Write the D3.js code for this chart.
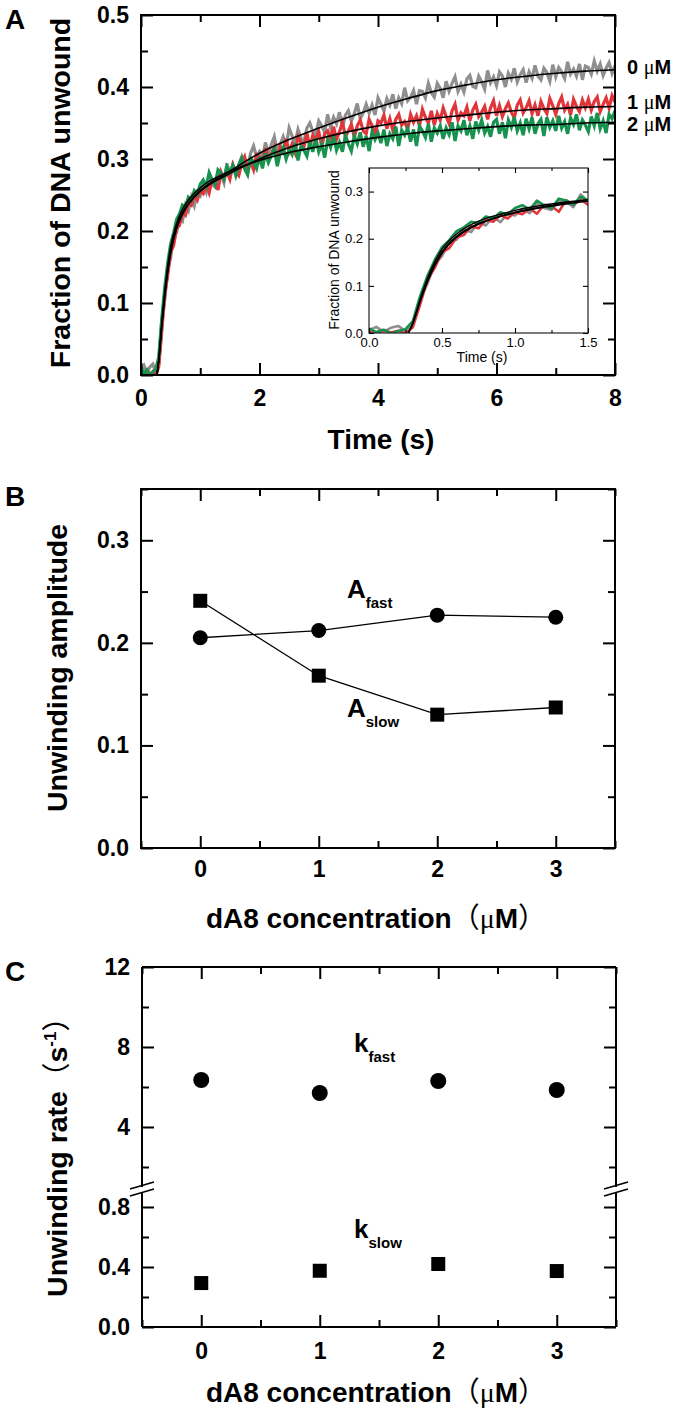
<!DOCTYPE html>
<html><head><meta charset="utf-8">
<script src="https://cdn.jsdelivr.net/npm/d3@7"></script>
<style>
body{margin:0;background:#fff}
svg{display:block}
text{font-family:"Liberation Sans",Arial,sans-serif}
</style>
</head><body>
<svg id="chart" width="680" height="1414"></svg>
<script>
// ---------------- DATA ----------------
// Panel A: stopped-flow traces sampled every 0.05 s from 0 to 8 s
const sampleStep = 0.05;
const trace0uM = [
0.006,0.013,0.003,0.011,0.015,0.004,0.016,0.072,0.104,0.146,0.163,0.193,0.198,0.219,0.214,0.236,0.228,0.247,0.235,0.254,0.249,
0.264,0.254,0.276,0.265,0.261,0.280,0.278,0.267,0.294,0.279,
0.292,0.280,0.292,0.303,0.290,0.286,0.308,0.318,0.303,0.310,
0.301,0.323,0.309,0.320,0.331,0.309,0.320,0.331,0.318,0.343,
0.332,0.322,0.341,0.329,0.324,0.343,0.350,0.338,0.334,0.353,
0.346,0.337,0.362,0.344,0.358,0.349,0.365,0.343,0.361,0.367,
0.353,0.363,0.377,0.356,0.364,0.376,0.364,0.375,0.361,0.385,
0.376,0.367,0.384,0.375,0.390,0.370,0.385,0.377,0.399,0.381,
0.386,0.395,0.376,0.395,0.394,0.385,0.405,0.392,0.386,0.405,
0.398,0.385,0.408,0.394,0.405,0.414,0.394,0.404,0.393,0.411,
0.416,0.401,0.399,0.415,0.407,0.397,0.423,0.406,0.414,0.402,
0.421,0.415,0.400,0.419,0.411,0.426,0.407,0.417,0.424,0.406,
0.421,0.412,0.430,0.415,0.410,0.426,0.420,0.408,0.431,0.414,
0.427,0.421,0.412,0.435,0.418,0.425,0.415,0.432,0.410,0.429,
0.427,0.418,0.436,0.422,0.432,0.416,0.426,0.434,0.419,0.430];
const trace1uM = [
0.004,-0.002,0.006,0.001,0.005,-0.001,0.012,0.060,0.112,0.138,0.171,0.180,0.203,0.208,0.226,0.222,0.240,0.236,0.250,0.243,0.256,
0.252,0.264,0.253,0.272,0.269,0.257,0.282,0.272,0.283,0.272,
0.292,0.282,0.277,0.294,0.303,0.287,0.296,0.285,0.306,0.303,
0.295,0.315,0.301,0.307,0.317,0.298,0.317,0.310,0.328,0.310,
0.321,0.309,0.331,0.323,0.317,0.336,0.316,0.333,0.326,0.338,
0.318,0.335,0.339,0.328,0.345,0.327,0.338,0.351,0.331,0.339,
0.348,0.330,0.346,0.354,0.339,0.335,0.355,0.346,0.333,0.353,
0.350,0.361,0.342,0.356,0.340,0.355,0.362,0.347,0.352,0.341,
0.362,0.351,0.360,0.346,0.369,0.358,0.350,0.367,0.347,0.363,
0.354,0.371,0.359,0.349,0.367,0.376,0.354,0.364,0.360,0.372,
0.353,0.368,0.376,0.359,0.365,0.373,0.355,0.371,0.381,0.360,
0.374,0.359,0.370,0.378,0.365,0.357,0.375,0.382,0.364,0.371,
0.381,0.363,0.375,0.360,0.380,0.370,0.363,0.384,0.374,0.362,
0.377,0.386,0.368,0.376,0.361,0.383,0.373,0.366,0.382,0.371,
0.383,0.368,0.380,0.386,0.366,0.376,0.385,0.371,0.388,0.379];
const trace2uM = [
0.010,0.002,0.007,-0.001,0.004,0.008,0.025,0.078,0.121,0.155,0.182,0.197,0.216,0.224,0.236,0.233,0.247,0.243,0.256,0.251,0.265,
0.271,0.262,0.281,0.271,0.264,0.285,0.281,0.272,0.289,0.281,
0.291,0.277,0.292,0.301,0.286,0.278,0.301,0.296,0.287,0.303,
0.287,0.308,0.295,0.305,0.314,0.290,0.308,0.316,0.300,0.313,
0.306,0.322,0.298,0.318,0.312,0.304,0.324,0.310,0.329,0.310,
0.321,0.302,0.327,0.316,0.332,0.312,0.323,0.310,0.333,0.321,
0.311,0.332,0.321,0.337,0.317,0.332,0.311,0.338,0.327,0.336,
0.322,0.341,0.318,0.335,0.328,0.345,0.318,0.340,0.333,0.343,
0.324,0.341,0.318,0.346,0.339,0.330,0.349,0.324,0.343,0.336,
0.346,0.328,0.343,0.334,0.351,0.325,0.346,0.339,0.354,0.333,
0.346,0.328,0.352,0.340,0.354,0.336,0.345,0.331,0.351,0.355,
0.335,0.351,0.329,0.354,0.344,0.358,0.339,0.350,0.333,0.356,
0.342,0.358,0.335,0.349,0.355,0.332,0.358,0.344,0.353,0.339,
0.360,0.343,0.352,0.335,0.357,0.348,0.362,0.340,0.354,0.347,
0.338,0.359,0.346,0.364,0.342,0.353,0.336,0.362,0.356,0.367];

// fitted curves (read at these times)
const fitTimes = [0.27,0.3,0.35,0.4,0.45,0.5,0.6,0.7,0.8,0.9,1.0,1.5,2,2.5,3,3.5,4,4.5,5,5.5,6,6.5,7,7.5,8];
const fit0uM = [0,0.02,0.068,0.11,0.145,0.172,0.205,0.225,0.238,0.248,0.256,0.283,0.308,0.327,0.343,0.358,0.372,0.384,0.395,0.403,0.410,0.415,0.419,0.422,0.424];
const fit1uM = [0,0.02,0.066,0.108,0.142,0.169,0.203,0.223,0.237,0.247,0.255,0.280,0.300,0.316,0.328,0.338,0.346,0.352,0.357,0.361,0.365,0.368,0.370,0.372,0.373];
const fit2uM = [0,0.022,0.072,0.116,0.151,0.178,0.210,0.230,0.243,0.252,0.260,0.283,0.298,0.309,0.317,0.324,0.330,0.335,0.339,0.342,0.345,0.347,0.348,0.350,0.351];
const traceLabels = ["0 ", "1 ", "2 "];
const traceColors = ["#8f8f8f", "#e0363a", "#17924f"];

// Panels B and C
const concentrations = [0, 1, 2, 3];
const aFast = [0.205, 0.212, 0.227, 0.225];
const aSlow = [0.241, 0.168, 0.130, 0.137];
const kFast = [6.35, 5.7, 6.3, 5.85];
const kSlow = [0.293, 0.375, 0.42, 0.373];

// tick values
const aXTicks = [0, 2, 4, 6, 8], aXMinor = [1, 3, 5, 7];
const aYTicks = [0, 0.1, 0.2, 0.3, 0.4, 0.5], aYMinor = [0.05, 0.15, 0.25, 0.35, 0.45];
const insetXTicks = [0, 0.5, 1.0, 1.5], insetXMinor = [0.25, 0.75, 1.25];
const insetYTicks = [0, 0.1, 0.2, 0.3];
const concTicks = [0, 1, 2, 3], concMinor = [-0.5, 0.5, 1.5, 2.5, 3.5];
const bYTicks = [0, 0.1, 0.2, 0.3], bYMinor = [0.05, 0.15, 0.25, 0.35];
const cUpperTicks = [4, 8, 12], cUpperMinor = [2, 6, 10];
const cLowerTicks = [0, 0.4, 0.8], cLowerMinor = [0.2, 0.6];

// ---------------- DRAWING ----------------
const svg = d3.select("#chart");
const defs = svg.append("defs");

function styleAxis(g, fontSize, weight) {
  g.attr("font-size", null).attr("font-family", null);
  g.select(".domain").remove();
  g.selectAll("line").attr("stroke", "#000");
  g.selectAll("text").attr("font-size", fontSize).attr("font-weight", weight)
    .attr("fill", "#000");
}
function axisSet(g, x, y, o) {
  const [x0, x1] = x.range(), [y0, y1] = y.range();
  const sw = o.sw;
  const add = (gen, tx, ty) => {
    const a = g.append("g").attr("transform", `translate(${tx},${ty})`).call(gen);
    styleAxis(a, o.font, o.weight);
    a.selectAll("line").attr("stroke-width", sw);
    return a;
  };
  if (o.bottom !== false) {
    add(d3.axisBottom(x).tickValues(o.xMajor).tickSize(-o.major).tickSizeOuter(0).tickPadding(o.xPad).tickFormat(o.xFmt), 0, y0);
    if (o.xMinor) add(d3.axisBottom(x).tickValues(o.xMinor).tickSize(-o.minor).tickSizeOuter(0).tickFormat(""), 0, y0);
  }
  if (o.top !== false) {
    add(d3.axisTop(x).tickValues(o.xMajor).tickSize(-o.major).tickSizeOuter(0).tickFormat(""), 0, y1);
    if (o.xMinor) add(d3.axisTop(x).tickValues(o.xMinor).tickSize(-o.minor).tickSizeOuter(0).tickFormat(""), 0, y1);
  }
  add(d3.axisLeft(y).tickValues(o.yMajor).tickSize(-o.major).tickSizeOuter(0).tickPadding(o.yPad).tickFormat(o.yFmt), x0, 0);
  if (o.yMinor) add(d3.axisLeft(y).tickValues(o.yMinor).tickSize(-o.minor).tickSizeOuter(0).tickFormat(""), x0, 0);
  add(d3.axisRight(y).tickValues(o.yMajor).tickSize(-o.major).tickSizeOuter(0).tickFormat(""), x1, 0);
  if (o.yMinor) add(d3.axisRight(y).tickValues(o.yMinor).tickSize(-o.minor).tickSizeOuter(0).tickFormat(""), x1, 0);
}
function panelLetter(t, x, y) {
  svg.append("text").attr("x", x).attr("y", y).attr("font-size", 28).attr("font-weight", "bold").text(t);
}
function muText(sel, parts) {
  parts.forEach(([t, kind]) => {
    const ts = sel.append("tspan").text(t);
    if (kind === "mu") ts.attr("font-family", "'Liberation Serif',serif").attr("font-weight", "normal");
    if (kind === "cjk") ts.attr("font-family", "'Noto Sans CJK SC',sans-serif").attr("font-weight", "normal");
  });
}

// ===== Panel A =====
const xA = d3.scaleLinear().domain([0, 8]).range([141, 615]);
const yA = d3.scaleLinear().domain([0, 0.5]).range([375, 15]);
defs.append("clipPath").attr("id", "clipA").append("rect")
  .attr("x", 141).attr("y", 15).attr("width", 474).attr("height", 360);
const traces = [trace0uM, trace1uM, trace2uM];
const fits = [fit0uM, fit1uM, fit2uM];
const gA = svg.append("g").attr("clip-path", "url(#clipA)");
const lineA = d3.line().x((d, i) => xA(i * sampleStep)).y(d => yA(d));
traces.forEach((tr, k) => {
  gA.append("path").attr("d", lineA(tr)).attr("fill", "none")
    .attr("stroke", traceColors[k]).attr("stroke-width", 3.2).attr("stroke-linejoin", "miter");
});
const fitLineA = d3.line().x((d, i) => xA(fitTimes[i])).y(d => yA(d)).curve(d3.curveMonotoneX);
fits.forEach(f => {
  gA.append("path").attr("d", fitLineA(f)).attr("fill", "none").attr("stroke", "#000").attr("stroke-width", 1.6);
});
svg.append("rect").attr("x", 141).attr("y", 15).attr("width", 474).attr("height", 360)
  .attr("fill", "none").attr("stroke", "#000").attr("stroke-width", 2);
axisSet(svg.append("g"), xA, yA, {
  xMajor: aXTicks, xMinor: aXMinor, yMajor: aYTicks, yMinor: aYMinor,
  major: 12, minor: 7, sw: 2, font: 23, weight: "bold", xPad: 15, yPad: 12,
  xFmt: d3.format("d"), yFmt: d3.format(".1f")
});
// right labels
const labelDy = [4, 3, 9];
traceLabels.forEach((t, k) => {
  const txt = svg.append("text").attr("x", 627).attr("y", yA(fits[k][fits[k].length - 1]) + labelDy[k])
    .attr("font-size", 20).attr("font-weight", "bold");
  muText(txt, [[t, ""], ["μ", "mu"], ["M", ""]]);
});
svg.append("text").attr("transform", "translate(70,193) rotate(-90)").attr("text-anchor", "middle")
  .attr("font-size", 28.5).attr("font-weight", "bold").text("Fraction of DNA unwound");
svg.append("text").attr("x", 381).attr("y", 449).attr("text-anchor", "middle")
  .attr("font-size", 28).attr("font-weight", "bold").text("Time (s)");
panelLetter("A", 5, 29);

// ----- Inset -----
const xI = d3.scaleLinear().domain([0, 1.5]).range([369, 588]);
const yI = d3.scaleLinear().domain([0, 0.35]).range([333, 168]);
svg.append("rect").attr("x", 369).attr("y", 168).attr("width", 219).attr("height", 165).attr("fill", "#fff");
defs.append("clipPath").attr("id", "clipI").append("rect")
  .attr("x", 369).attr("y", 168).attr("width", 219).attr("height", 165);
const gI = svg.append("g").attr("clip-path", "url(#clipI)");
const lineI = d3.line().x((d, i) => xI(i * sampleStep)).y(d => yI(d));
traces.forEach((tr, k) => {
  gI.append("path").attr("d", lineI(tr.slice(0, 32))).attr("fill", "none")
    .attr("stroke", traceColors[k]).attr("stroke-width", 2.6).attr("stroke-linejoin", "round");
});
const fitLineI = d3.line().x((d, i) => xI(fitTimes[i])).y(d => yI(d)).curve(d3.curveMonotoneX);
fits.forEach(f => {
  gI.append("path").attr("d", fitLineI(f)).attr("fill", "none").attr("stroke", "#000").attr("stroke-width", 1.4);
});
svg.append("rect").attr("x", 369).attr("y", 168).attr("width", 219).attr("height", 165)
  .attr("fill", "none").attr("stroke", "#222").attr("stroke-width", 1.2);
axisSet(svg.append("g"), xI, yI, {
  xMajor: insetXTicks, xMinor: insetXMinor, yMajor: insetYTicks,
  major: 5, minor: 3, sw: 1.1, font: 13, weight: "normal", xPad: 5, yPad: 6,
  xFmt: d3.format(".1f"), yFmt: d3.format(".1f")
});
svg.append("text").attr("transform", "translate(339,250) rotate(-90)").attr("text-anchor", "middle")
  .attr("font-size", 14).text("Fraction of DNA unwound");
svg.append("text").attr("x", 482).attr("y", 362).attr("text-anchor", "middle")
  .attr("font-size", 14).text("Time (s)");

// ===== Panel B =====
const xB = d3.scaleLinear().domain([-0.5, 3.5]).range([141, 615]);
const yB = d3.scaleLinear().domain([0, 0.35]).range([848, 489]);
svg.append("rect").attr("x", 141).attr("y", 489).attr("width", 474).attr("height", 359)
  .attr("fill", "none").attr("stroke", "#000").attr("stroke-width", 2);
axisSet(svg.append("g"), xB, yB, {
  xMajor: concTicks, xMinor: concMinor, yMajor: bYTicks, yMinor: bYMinor,
  major: 12, minor: 7, sw: 2, font: 23, weight: "bold", xPad: 13, yPad: 12,
  xFmt: d3.format("d"), yFmt: d3.format(".1f")
});
const lineB = d3.line().x((d, i) => xB(concentrations[i])).y(d => yB(d));
[aFast, aSlow].forEach(s => {
  svg.append("path").attr("d", lineB(s)).attr("fill", "none").attr("stroke", "#000").attr("stroke-width", 1.3);
});
svg.append("g").selectAll("circle").data(aFast).join("circle")
  .attr("cx", (d, i) => xB(concentrations[i])).attr("cy", d => yB(d)).attr("r", 7.5).attr("fill", "#000");
svg.append("g").selectAll("rect").data(aSlow).join("rect")
  .attr("x", (d, i) => xB(concentrations[i]) - 7).attr("y", d => yB(d) - 7)
  .attr("width", 14).attr("height", 14).attr("fill", "#000");
function subLabel(main, sub, x, y, size) {
  const t = svg.append("text").attr("x", x).attr("y", y).attr("font-weight", "bold").attr("font-size", size);
  t.append("tspan").text(main);
  t.append("tspan").attr("font-size", 15).attr("dy", 10).text(sub);
}
subLabel("A", "fast", 347, 598, 26);
subLabel("A", "slow", 347, 717, 26);
svg.append("text").attr("transform", "translate(67,668) rotate(-90)").attr("text-anchor", "middle")
  .attr("font-size", 28.5).attr("font-weight", "bold").text("Unwinding amplitude");
{
  const t = svg.append("text").attr("x", 376).attr("y", 928).attr("text-anchor", "middle")
    .attr("font-size", 28).attr("font-weight", "bold");
  muText(t, [["dA8 concentration", ""], ["（", "cjk"], ["μ", "mu"], ["M", ""], ["）", "cjk"]]);
}
panelLetter("B", 5, 506);

// ===== Panel C =====
const xC = d3.scaleLinear().domain([-0.5, 3.5]).range([142, 616]);
const yCu = d3.scaleLinear().domain([1, 12]).range([1187, 967]);
const yCl = d3.scaleLinear().domain([0, 0.9]).range([1327, 1192]);
const gC = svg.append("g");
const frame = [
  [142, 967, 616, 967], [142, 1327, 616, 1327],
  [142, 967, 142, 1187], [142, 1193, 142, 1327],
  [616, 967, 616, 1187], [616, 1193, 616, 1327]
];
gC.selectAll("line.f").data(frame).join("line").attr("class", "f")
  .attr("x1", d => d[0]).attr("y1", d => d[1]).attr("x2", d => d[2]).attr("y2", d => d[3])
  .attr("stroke", "#000").attr("stroke-width", 2);
axisSet(gC.append("g"), xC, yCu, {
  bottom: false, xMajor: concTicks, xMinor: concMinor, yMajor: cUpperTicks, yMinor: cUpperMinor,
  major: 12, minor: 7, sw: 2, font: 23, weight: "bold", xPad: 14, yPad: 12,
  xFmt: d3.format("d"), yFmt: d3.format("d")
});
axisSet(gC.append("g"), xC, yCl, {
  top: false, xMajor: concTicks, xMinor: concMinor, yMajor: cLowerTicks, yMinor: cLowerMinor,
  major: 12, minor: 7, sw: 2, font: 23, weight: "bold", xPad: 16, yPad: 12,
  xFmt: d3.format("d"), yFmt: d3.format(".1f")
});
[142, 616].forEach(bx => {
  [1186, 1193].forEach(by => {
    gC.append("line").attr("x1", bx - 12).attr("y1", by + 3).attr("x2", bx + 12).attr("y2", by - 4)
      .attr("stroke", "#000").attr("stroke-width", 1.6);
  });
});
gC.append("g").selectAll("circle").data(kFast).join("circle")
  .attr("cx", (d, i) => xC(concentrations[i])).attr("cy", d => yCu(d)).attr("r", 8).attr("fill", "#000");
gC.append("g").selectAll("rect").data(kSlow).join("rect")
  .attr("x", (d, i) => xC(concentrations[i]) - 7).attr("y", d => yCl(d) - 7)
  .attr("width", 14).attr("height", 14).attr("fill", "#000");
subLabel("k", "fast", 354, 1052, 26);
subLabel("k", "slow", 354, 1238, 26);
{
  const t = svg.append("text").attr("transform", "translate(67,1150) rotate(-90)").attr("text-anchor", "middle")
    .attr("font-size", 28.5).attr("font-weight", "bold");
  t.append("tspan").text("Unwinding rate");
  t.append("tspan").attr("font-family", "'Noto Sans CJK SC',sans-serif").attr("font-weight", "normal").text("（");
  t.append("tspan").text("s");
  t.append("tspan").attr("font-size", 17).attr("dy", -11).text("-1");
  t.append("tspan").attr("dy", 11).attr("font-family", "'Noto Sans CJK SC',sans-serif").attr("font-weight", "normal").text("）");
}
{
  const t = svg.append("text").attr("x", 376).attr("y", 1402).attr("text-anchor", "middle")
    .attr("font-size", 28).attr("font-weight", "bold");
  muText(t, [["dA8 concentration", ""], ["（", "cjk"], ["μ", "mu"], ["M", ""], ["）", "cjk"]]);
}
panelLetter("C", 5, 981);
</script>
</body></html>
